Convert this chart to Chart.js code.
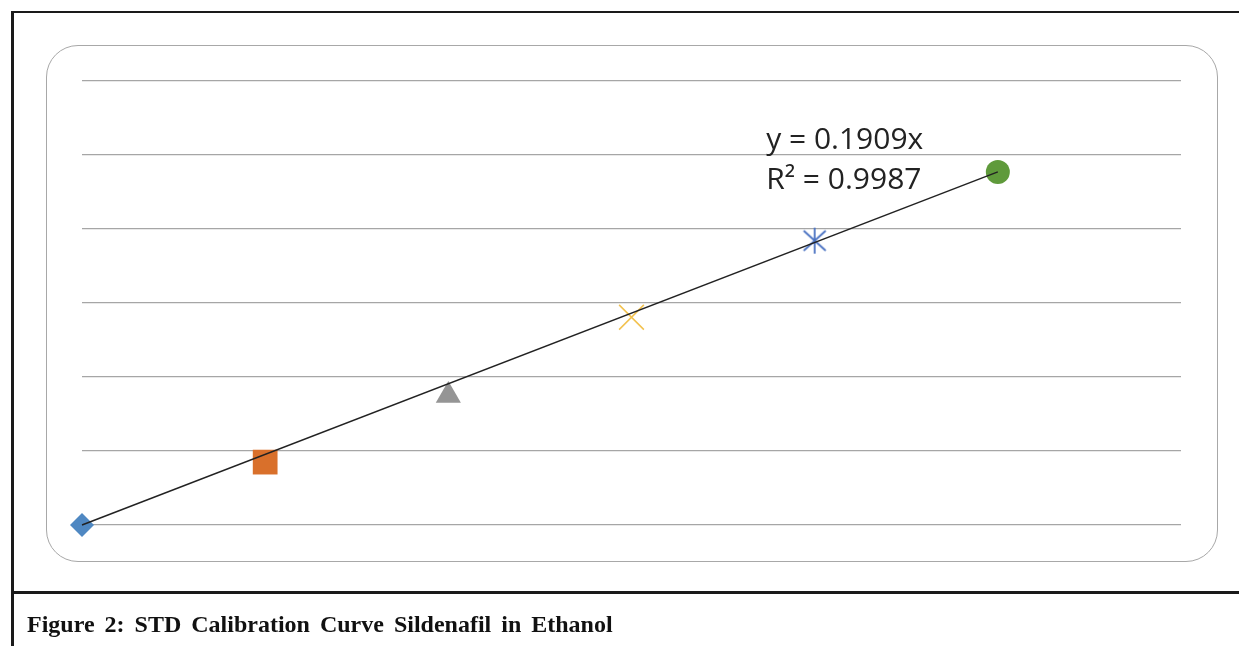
<!DOCTYPE html>
<html>
<head>
<meta charset="utf-8">
<script src="https://cdn.jsdelivr.net/npm/chart.js@4"></script>
<style>
  html, body { margin: 0; padding: 0; background: #fff; }
  body { width: 1239px; height: 646px; position: relative; overflow: hidden; }
  #frameTop { position: absolute; left: 11px; top: 11px; width: 1240px; height: 578px;
              border-top: 2.5px solid #1a1a1a; border-bottom: 3px solid #1a1a1a; }
  #frameLeft { position: absolute; left: 11px; top: 11px; width: 2.5px; height: 640px; background: #1a1a1a; }
  #plotBox { position: absolute; left: 46px; top: 45px; width: 1170px; height: 515px;
             border: 1.5px solid #a8a8a8; border-radius: 32px; }
  #chartWrap { position: absolute; left: 0; top: 0; width: 1239px; height: 646px; }
  #caption { position: absolute; left: 27px; top: 611px; font-family: "Liberation Serif", "Times New Roman", serif;
             font-weight: bold; font-size: 24px; word-spacing: 4px; color: #111; white-space: nowrap; }
</style>
</head>
<body>
<div id="frameTop"></div>
<div id="frameLeft"></div>
<div id="plotBox"></div>
<div id="chartWrap"><canvas id="chart" width="1239" height="646"></canvas></div>
<div id="caption">Figure 2: STD Calibration Curve Sildenafil in Ethanol</div>

<script>
// concentrations and absorbances
let concs = [0, 2, 4, 6, 8, 10];
let absorb = [0, 0.34, 0.70, 1.123, 1.537, 1.908];
let slope = 0.1909;
let eqLabel = "y = 0.1909x";
let r2Label = "R² = 0.9987";

let markerStyles = ["rectRot", "rect", "triangle", "crossRot", "asterisk", "circle"];
let markerColors = ["#4f88c2", "#d9702b", "#959595", "#f2c14e", "#4a72c2", "#5f9a3b"];
let markerRadius = [12, 17.5, 14.5, 17.5, 15, 12];

let yMin = 0, yMax = 2.4, yStep = 0.4;
let xMin = 0, xMax = 12;

function makeAsterisk(color) {
    let c = document.createElement("canvas");
    c.width = 30; c.height = 30;
    let g = c.getContext("2d");
    g.strokeStyle = color;
    g.lineWidth = 1.8;
    g.beginPath();
    g.moveTo(15, 2); g.lineTo(15, 28);
    g.moveTo(4, 5); g.lineTo(26, 25);
    g.moveTo(26, 5); g.lineTo(4, 25);
    g.stroke();
    return c;
}

let datasets = concs.map((x, i) => {
    let style = markerStyles[i];
    let isLine = style === "crossRot";
    return {
        data: [{ x: x, y: absorb[i] }],
        pointStyle: style === "asterisk" ? makeAsterisk(markerColors[i]) : style,
        pointRadius: markerRadius[i],
        backgroundColor: markerColors[i],
        borderColor: markerColors[i],
        pointBorderWidth: isLine ? 1.5 : 0,
        showLine: false,
        clip: false,
        order: 1
    };
});

// linear trendline through the origin
datasets.push({
    type: "line",
    data: [{ x: concs[0], y: slope * concs[0] }, { x: concs[concs.length - 1], y: slope * concs[concs.length - 1] }],
    borderColor: "#222",
    borderWidth: 1.5,
    pointRadius: 0,
    fill: false,
    clip: false,
    order: 0
});

let labelPlugin = {
    id: "eqLabel",
    afterDatasetsDraw(c) {
        let ctx = c.ctx;
        let xs = c.scales.x, ys = c.scales.y;
        let left = xs.getPixelForValue(7.47);
        ctx.save();
        ctx.fillStyle = "#222";
        ctx.font = "30px 'Open Sans', sans-serif";
        ctx.textBaseline = "alphabetic";
        ctx.fillText(eqLabel, left, ys.getPixelForValue(2.035));
        ctx.fillText(r2Label, left, ys.getPixelForValue(1.815));
        ctx.restore();
    }
};

new Chart(document.getElementById("chart"), {
    type: "scatter",
    data: { datasets },
    options: {
        responsive: false,
        animation: false,
        layout: { padding: { left: 82, right: 58, top: 81, bottom: 121 } },
        plugins: { legend: { display: false }, tooltip: { enabled: false } },
        scales: {
            x: {
                type: "linear", min: xMin, max: xMax,
                display: true,
                grid: { display: false, drawTicks: false },
                border: { display: false },
                ticks: { display: false }
            },
            y: {
                type: "linear", min: yMin, max: yMax,
                display: true,
                grid: { color: "#a6a6a6", lineWidth: 1.3, drawTicks: false },
                border: { display: false },
                ticks: { display: false, stepSize: yStep }
            }
        }
    },
    plugins: [labelPlugin]
});
</script>
</body>
</html>
